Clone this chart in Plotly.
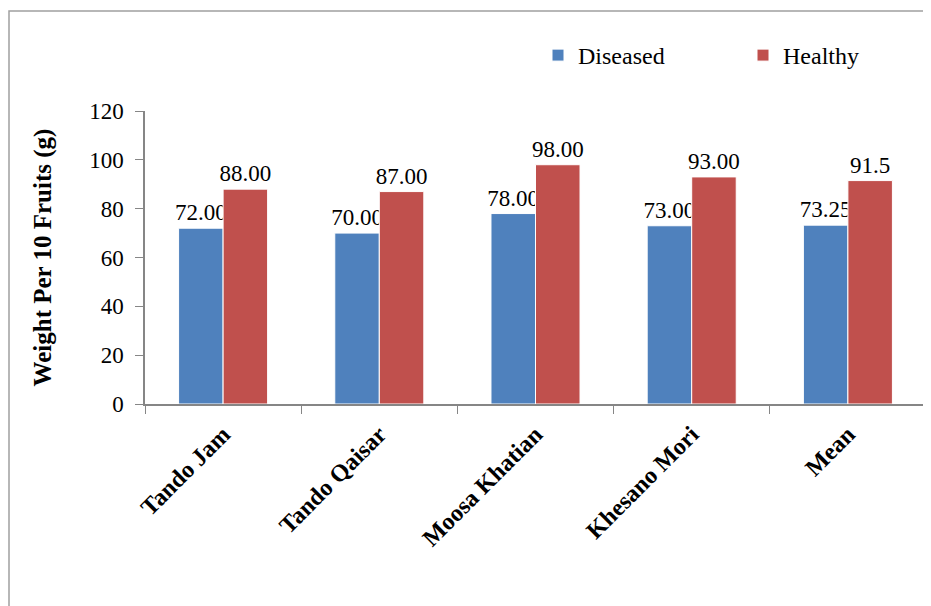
import plotly.graph_objects as go

categories = ["Tando Jam", "Tando Qaisar", "Moosa Khatian", "Khesano Mori", "Mean"]
diseased = [72.00, 70.00, 78.00, 73.00, 73.25]
healthy = [88.00, 87.00, 98.00, 93.00, 91.5]
diseased_labels = ["72.00", "70.00", "78.00", "73.00", "73.25"]
healthy_labels = ["88.00", "87.00", "98.00", "93.00", "91.5"]
y_ticks = [0, 20, 40, 60, 80, 100, 120]

W, H = 931, 606
OFF = 8  # page body margin offset
L, R, T, B = 145 - OFF, 13, 111 - OFF, 210
pw = W - L - R
ph = H - T - B

font_family = "Liberation Serif, Times New Roman, serif"

fig = go.Figure()
fig.add_trace(go.Bar(
    name="Diseased", x=categories, y=diseased, text=diseased_labels,
    textposition="outside", constraintext="none",
    marker=dict(color="#4F81BD", line=dict(color="#FFFFFF", width=1)),
    textfont=dict(family=font_family, size=23, color="#000000"), cliponaxis=False,
))
fig.add_trace(go.Bar(
    name="Healthy", x=categories, y=healthy, text=healthy_labels,
    textposition="outside", constraintext="none",
    marker=dict(color="#C0504D", line=dict(color="#FFFFFF", width=1)),
    textfont=dict(family=font_family, size=23, color="#000000"), cliponaxis=False,
))

def px_to_paper_x(px):
    return (px - L) / pw

def px_to_paper_y(py):
    return (H - B - py) / ph

fig.update_layout(
    width=W, height=H,
    margin=dict(l=L, r=R, t=T, b=B, autoexpand=False),
    paper_bgcolor="white", plot_bgcolor="white",
    barmode="group", bargap=0.43, bargroupgap=0.0,
    font=dict(family=font_family, size=23, color="#000000"),
    showlegend=True,
    legend=dict(orientation="h", xref="container", yref="container",
                x=530 / W, y=1 - 25 / H,
                xanchor="left", yanchor="top", font=dict(size=24, family=font_family),
                itemwidth=30, entrywidth=160, entrywidthmode="pixels",
                bgcolor="rgba(0,0,0,0)"),
    shapes=[dict(type="rect", xref="paper", yref="paper",
                 x0=px_to_paper_x(1), x1=px_to_paper_x(960),
                 y0=px_to_paper_y(640), y1=px_to_paper_y(3),
                 line=dict(color="#A0A0A0", width=1.5), layer="below")],
)
fig.update_xaxes(
    automargin=False,
    showline=True, linecolor="#868686", linewidth=1.5,
    ticks="outside", tickson="boundaries", ticklen=8, tickcolor="#868686",
    ticklabelstandoff=5,
    tickangle=-45, tickfont=dict(family=font_family, size=24, color="#000000", weight="bold"),
    showgrid=False,
)
fig.update_yaxes(
    automargin=False,
    range=[0, 120], tickvals=y_ticks, ticktext=[str(v) for v in y_ticks],
    showline=True, linecolor="#868686", linewidth=1.5,
    ticks="outside", ticklen=8, tickcolor="#868686",
    ticklabelstandoff=7,
    tickfont=dict(family=font_family, size=23, color="#000000"),
    showgrid=False, zeroline=False,
    title=dict(text="Weight Per 10 Fruits (g)", font=dict(family=font_family, size=25, color="#000000", weight="bold"), standoff=30),
)

fig.write_html("out.html")
